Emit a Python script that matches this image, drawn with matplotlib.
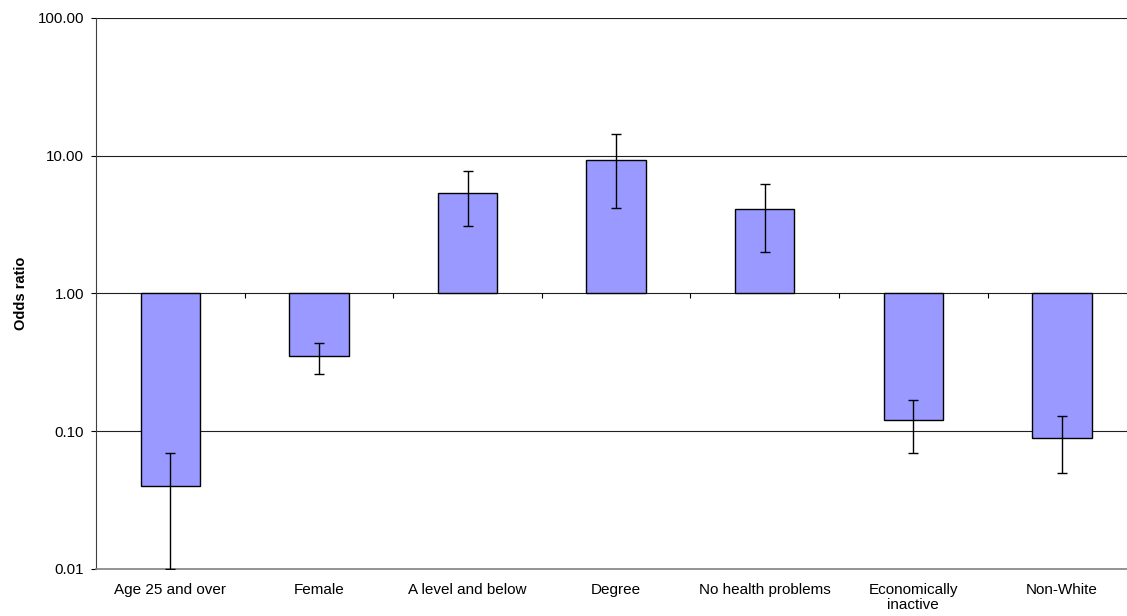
import numpy as np
import matplotlib
matplotlib.use("Agg")
import matplotlib.pyplot as plt
from matplotlib.ticker import FixedLocator, FuncFormatter, NullLocator

plt.rcParams["font.family"] = ["Liberation Sans", "DejaVu Sans"]

# ---------------------------------------------------------------------------
# DATA (odds ratios)
# ---------------------------------------------------------------------------
categories = ["Age 25 and over", "Female", "A level and below", "Degree",
              "No health problems", "Economically\ninactive", "Non-White"]
odds_ratio = [0.04, 0.35, 5.4, 9.3, 4.1, 0.12, 0.09]
ci_lower = [0.01, 0.26, 3.1, 4.2, 2.0, 0.07, 0.05]
ci_upper = [0.07, 0.44, 7.7, 14.4, 6.2, 0.17, 0.13]
y_ticks = [0.01, 0.1, 1, 10, 100]

BAR_COLOR = "#9999FF"

x = np.arange(len(categories))
vals = np.array(odds_ratio)
err = np.array([vals - np.array(ci_lower), np.array(ci_upper) - vals])

fig = plt.figure(figsize=(11.27, 6.16), dpi=100)
ax = fig.add_axes([0.0852, 0.0763, 0.923, 0.8945])

ax.set_yscale("log")
ax.set_ylim(0.01, 100)
ax.set_xlim(-0.5, len(categories) - 0.5)

# gridlines at every decade
for t in y_ticks[1:]:
    ax.axhline(t, color="#202020", lw=0.8, zorder=1)

# bars grow from 1.0 (axis crossing)
ax.bar(x, vals - 1, bottom=1, width=0.4, color=BAR_COLOR,
       edgecolor="black", linewidth=1.0, zorder=2)
ax.errorbar(x, vals, yerr=err, fmt="none", ecolor="black",
            elinewidth=1.0, capsize=3.5, capthick=1.0, zorder=3)

# category boundary tick marks on the 1.00 line
bounds = np.arange(-0.5, len(categories), 1.0)
ax.vlines(bounds, 0.92, 1.0, color="black", lw=0.8, zorder=2)

ax.yaxis.set_major_locator(FixedLocator(y_ticks))
ax.yaxis.set_minor_locator(NullLocator())
ax.yaxis.set_major_formatter(FuncFormatter(lambda v, p: f"{v:.2f}"))
ax.tick_params(axis="y", direction="out", length=3.6, width=0.8,
               labelsize=10.8, pad=5)

ax.set_xticks(x)
ax.set_xticklabels(categories, fontsize=11, linespacing=1.1)
ax.tick_params(axis="x", length=0, pad=10)

ax.set_ylabel("Odds ratio", fontsize=10.5, fontweight="bold", labelpad=7)

for side in ["top", "right"]:
    ax.spines[side].set_visible(False)
ax.spines["left"].set_color("#404040")
ax.spines["bottom"].set_color("#808080")
ax.spines["left"].set_linewidth(0.8)
ax.spines["bottom"].set_linewidth(1.2)

fig.savefig("out.png", dpi=100)
